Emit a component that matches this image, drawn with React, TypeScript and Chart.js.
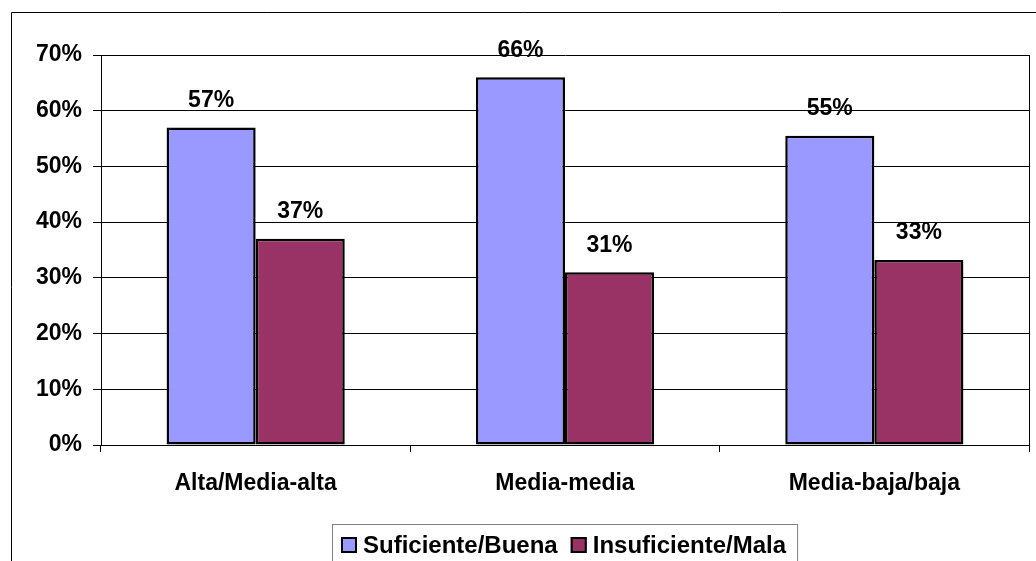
import React, { useEffect, useRef } from "react";
import { Chart, registerables } from "chart.js";

Chart.register(...registerables);

const categories = ["Alta/Media-alta", "Media-media", "Media-baja/baja"];
const seriesNames = ["Suficiente/Buena", "Insuficiente/Mala"];
const suficiente = [57, 66, 55.5];
const insuficiente = [37, 31, 33.2];
const seriesColors = ["#9999FF", "#993366"];
const yMin = 0;
const yMax = 70;
const yStep = 10;

const FONT = '"Liberation Sans", Arial, sans-serif';

const framePlugin = {
  id: "frame",
  beforeDraw(chart: any) {
    const ctx = chart.ctx;
    ctx.save();
    ctx.strokeStyle = "#000";
    ctx.lineWidth = 1;
    ctx.beginPath();
    ctx.moveTo(11.5, chart.height + 5);
    ctx.lineTo(11.5, 12.5);
    ctx.lineTo(chart.width + 5, 12.5);
    ctx.stroke();
    ctx.restore();
  },
  afterDraw(chart: any) {
    const ctx = chart.ctx;
    const a = chart.chartArea;
    ctx.save();
    ctx.strokeStyle = "#000";
    ctx.lineWidth = 1;
    ctx.beginPath();
    ctx.moveTo(Math.round(a.right) + 0.5, Math.round(a.top));
    ctx.lineTo(Math.round(a.right) + 0.5, Math.round(a.bottom) + 7);
    ctx.stroke();
    ctx.restore();
  },
};

const labelPlugin = {
  id: "barLabels",
  afterDatasetsDraw(chart: any) {
    const ctx = chart.ctx;
    ctx.save();
    ctx.fillStyle = "#000";
    ctx.font = `bold 23px ${FONT}`;
    ctx.textAlign = "center";
    ctx.textBaseline = "middle";
    chart.data.datasets.forEach((ds: any, i: number) => {
      const meta = chart.getDatasetMeta(i);
      meta.data.forEach((el: any, j: number) => {
        const v = ds.data[j] as number;
        ctx.fillText(`${Math.floor(v)}%`, el.x, el.y - 27);
      });
    });
    ctx.restore();
  },
};

const legendPlugin = {
  id: "boxLegend",
  afterDraw(chart: any) {
    const ctx = chart.ctx;
    const a = chart.chartArea;
    ctx.save();
    ctx.font = `bold 24px ${FONT}`;
    const box = 16;
    const gapBoxText = 6;
    const gapItems = 13;
    const padL = 9;
    const padR = 11;
    const widths = chart.data.datasets.map((d: any) => ctx.measureText(d.label).width);
    let inner = 0;
    widths.forEach((w: number, i: number) => {
      inner += box + gapBoxText + w + (i < widths.length - 1 ? gapItems : 0);
    });
    const total = padL + inner + padR;
    const cx = (a.left + a.right) / 2;
    const left = Math.round(cx - total / 2);
    const top = 524;
    const midY = 545;
    ctx.strokeStyle = "#808080";
    ctx.lineWidth = 1;
    ctx.strokeRect(left + 0.5, top + 0.5, total, 60);
    let x = left + padL;
    chart.data.datasets.forEach((d: any, i: number) => {
      ctx.fillStyle = d.backgroundColor;
      ctx.fillRect(x, midY - box / 2, box, box);
      ctx.strokeStyle = "#000";
      ctx.lineWidth = 2;
      ctx.strokeRect(x + 1, midY - box / 2 + 1, box - 2, box - 2);
      x += box + gapBoxText;
      ctx.fillStyle = "#000";
      ctx.textAlign = "left";
      ctx.textBaseline = "middle";
      ctx.fillText(d.label, x, midY + 1);
      x += widths[i] + gapItems;
    });
    ctx.restore();
  },
};

export default function App() {
  const ref = useRef<HTMLCanvasElement | null>(null);
  useEffect(() => {
    if (!ref.current) return;
    const chart = new Chart(ref.current, {
      type: "bar",
      data: {
        labels: categories,
        datasets: [
          {
            label: seriesNames[0],
            data: suficiente,
            backgroundColor: seriesColors[0],
            borderColor: "#000",
            borderWidth: 2.5,
            borderSkipped: false,
            categoryPercentage: 0.576,
            barPercentage: 1,
          },
          {
            label: seriesNames[1],
            data: insuficiente,
            backgroundColor: seriesColors[1],
            borderColor: "#000",
            borderWidth: 2.5,
            borderSkipped: false,
            categoryPercentage: 0.576,
            barPercentage: 1,
          },
        ],
      },
      options: {
        responsive: false,
        animation: false,
        layout: { padding: { left: 0, top: 55, right: 7, bottom: 0 } },
        plugins: {
          legend: { display: false },
          tooltip: { enabled: false },
          title: { display: false },
        },
        scales: {
          x: {
            afterFit(scale: any) {
              scale.height = 116;
            },
            grid: {
              display: true,
              offset: true,
              drawOnChartArea: false,
              drawTicks: true,
              tickLength: 7,
              color: "#000",
            },
            border: { display: true, color: "#000", width: 1 },
            ticks: {
              color: "#000",
              font: { family: FONT, size: 23, weight: "bold" },
              padding: 18,
              maxRotation: 0,
            },
          },
          y: {
            min: yMin,
            max: yMax,
            afterFit(scale: any) {
              scale.width = 101;
            },
            grid: {
              color: "#000",
              lineWidth: 1,
              drawTicks: true,
              tickLength: 8,
            },
            border: { display: true, color: "#000", width: 1 },
            ticks: {
              stepSize: yStep,
              color: "#000",
              padding: 11,
              font: { family: FONT, size: 23, weight: "bold" },
              callback: (v: any) => `${v}%`,
            },
          },
        },
      },
      plugins: [framePlugin, labelPlugin, legendPlugin],
    });
    return () => chart.destroy();
  }, []);
  return (
    <div style={{ position: "fixed", left: 0, top: 0, width: 1036, height: 561, background: "#fff" }}>
      <canvas ref={ref} width={1036} height={561} />
    </div>
  );
}
